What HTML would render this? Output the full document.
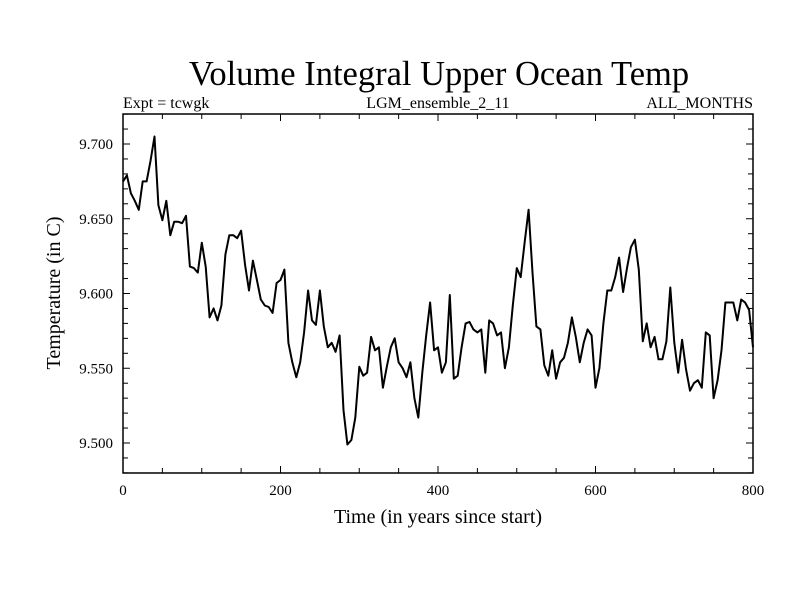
<!DOCTYPE html>
<html><head><meta charset="utf-8"><style>
html,body{margin:0;padding:0;background:#fff;}
svg text{font-family:"Liberation Serif",serif;fill:#000;}
</style></head><body>
<svg id="chart" width="800" height="600" viewBox="0 0 800 600" xmlns="http://www.w3.org/2000/svg">
<rect width="800" height="600" fill="#fff"/>
<text x="439" y="85" font-size="34.5" text-anchor="middle">Volume Integral Upper Ocean Temp</text>
<text x="123" y="108" font-size="16">Expt = tcwgk</text>
<text x="438" y="108" font-size="16" text-anchor="middle">LGM_ensemble_2_11</text>
<text x="753" y="108" font-size="16" text-anchor="end">ALL_MONTHS</text>
<g id="axes"></g>
<path id="series" fill="none" stroke="#000" stroke-width="2" stroke-linejoin="round"/>
<rect x="123" y="114" width="630" height="359" fill="none" stroke="#000" stroke-width="1.5"/>
<text x="438" y="523" font-size="20" text-anchor="middle">Time (in years since start)</text>
<text x="0" y="0" font-size="20" text-anchor="middle" transform="translate(60,293) rotate(-90)">Temperature (in C)</text>
</svg>
<script>
const years = [];
for (let t = 0; t <= 800; t += 5) years.push(t);
const temps = [9.675,9.679,9.667,9.662,9.656,9.675,9.675,9.689,9.705,9.659,9.649,9.662,9.639,9.648,9.648,9.647,9.652,9.618,9.617,9.614,9.634,9.618,9.584,9.590,9.582,9.592,9.626,9.639,9.639,9.637,9.642,9.619,9.602,9.622,9.609,9.596,9.592,9.591,9.587,9.607,9.609,9.616,9.567,9.554,9.544,9.554,9.574,9.602,9.582,9.579,9.602,9.578,9.564,9.567,9.561,9.572,9.522,9.499,9.502,9.517,9.551,9.545,9.547,9.571,9.562,9.564,9.537,9.551,9.564,9.570,9.554,9.550,9.544,9.554,9.530,9.517,9.547,9.572,9.594,9.562,9.564,9.547,9.554,9.599,9.543,9.545,9.564,9.580,9.581,9.576,9.574,9.576,9.547,9.582,9.580,9.572,9.574,9.550,9.564,9.592,9.617,9.611,9.634,9.656,9.614,9.578,9.576,9.552,9.545,9.562,9.543,9.554,9.557,9.567,9.584,9.571,9.554,9.567,9.576,9.572,9.537,9.550,9.580,9.602,9.602,9.611,9.624,9.601,9.617,9.631,9.636,9.616,9.568,9.580,9.564,9.571,9.556,9.556,9.568,9.604,9.567,9.547,9.569,9.549,9.535,9.540,9.542,9.537,9.574,9.572,9.530,9.542,9.562,9.594,9.594,9.594,9.582,9.596,9.594,9.589,9.564];
const xTickLabels = ["0","200","400","600","800"];
const yTickLabels = ["9.500","9.550","9.600","9.650","9.700"];

const L=123,R=753,T=114,B=473, X0=0,X1=800, Y0=9.5,Y1=9.7, Y0px=443,Y1px=144;
const xs = v => L + (v - X0) / (X1 - X0) * (R - L);
const ys = v => Y0px + (v - Y0) / (Y1 - Y0) * (Y1px - Y0px);
const NS="http://www.w3.org/2000/svg";
const axes=document.getElementById('axes');
function line(x1,y1,x2,y2){const l=document.createElementNS(NS,'line');l.setAttribute('x1',x1);l.setAttribute('y1',y1);l.setAttribute('x2',x2);l.setAttribute('y2',y2);l.setAttribute('stroke','#000');l.setAttribute('stroke-width','1');axes.appendChild(l);return l;}
for(let v=0;v<=800;v+=50){const x=xs(v);const len=(v%200===0)?7:5;
 const a=line(x,B,x,B-len);
 
 
 const b=line(x,T,x,T+len);
 
 }
xTickLabels.forEach(s=>{const t=document.createElementNS(NS,'text');t.setAttribute('x',xs(parseFloat(s)));t.setAttribute('y',B+22);t.setAttribute('font-size','15');t.setAttribute('text-anchor','middle');t.textContent=s;
 
 
 axes.appendChild(t);});
for(let i=-2;i<=22;i++){const v=9.5+i*0.01;const y=ys(v);if(y<T||y>B)continue;const len=(i%5===0)?7:5;
 const a=line(L,y,L+len,y);
 
 
 const b=line(R,y,R-len,y);
 
 }
yTickLabels.forEach(s=>{const t=document.createElementNS(NS,'text');t.setAttribute('x',L-10);t.setAttribute('y',ys(parseFloat(s))+5);t.setAttribute('font-size','15');t.setAttribute('text-anchor','end');t.textContent=s;
 
 
 axes.appendChild(t);});
let d='';
years.forEach((yr,i)=>{d+=(i?'L':'M')+xs(yr).toFixed(1)+','+ys(temps[i]).toFixed(1);});
document.getElementById('series').setAttribute('d',d);
</script>
</body></html>
